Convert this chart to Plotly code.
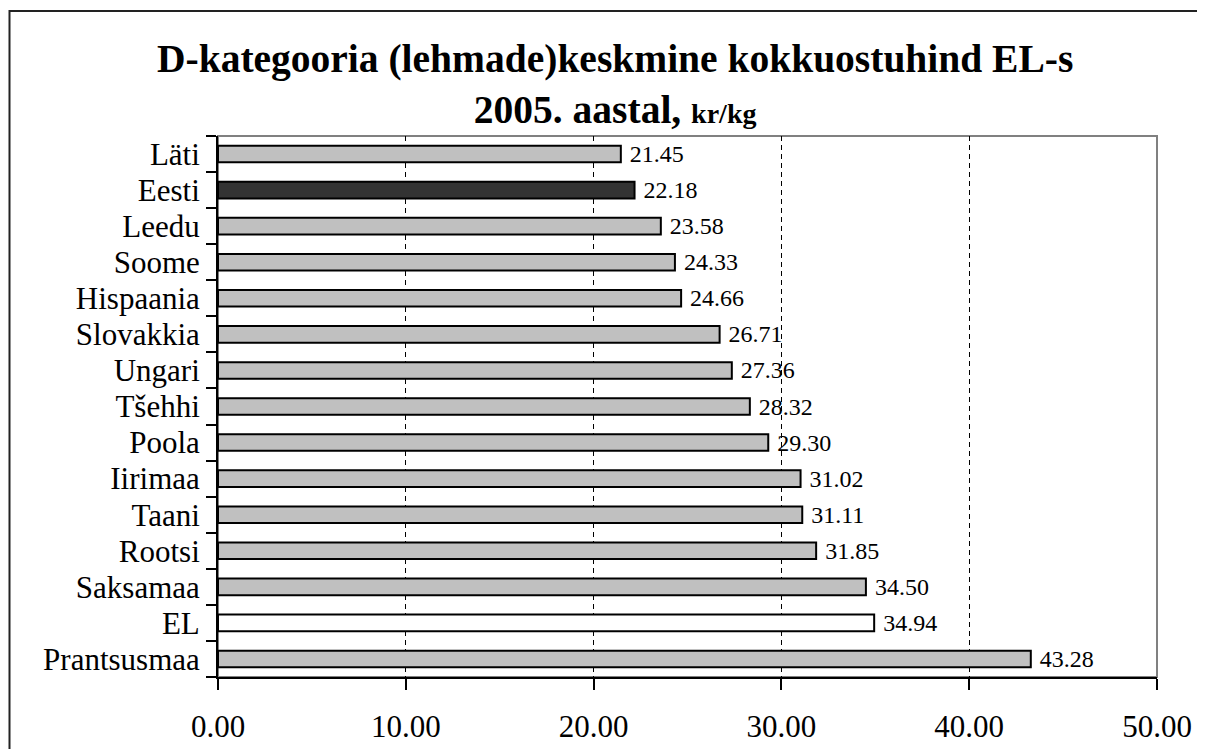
import plotly.graph_objects as go

# Data (top to bottom)
countries = ['Läti', 'Eesti', 'Leedu', 'Soome', 'Hispaania', 'Slovakkia', 'Ungari',
             'Tšehhi', 'Poola', 'Iirimaa', 'Taani', 'Rootsi', 'Saksamaa', 'EL', 'Prantsusmaa']
prices = [21.45, 22.18, 23.58, 24.33, 24.66, 26.71, 27.36,
          28.32, 29.30, 31.02, 31.11, 31.85, 34.50, 34.94, 43.28]
x_ticks = [0, 10, 20, 30, 40, 50]

FONT = 'Times New Roman, Liberation Serif, serif'

# Eesti highlighted dark, EL average white, everyone else silver
bar_colors = []
for c in countries:
    if c == 'Eesti':
        bar_colors.append('#333333')
    elif c == 'EL':
        bar_colors.append('#FFFFFF')
    else:
        bar_colors.append('#C0C0C0')

fig = go.Figure(go.Bar(
    x=prices,
    y=countries,
    orientation='h',
    width=0.46,
    marker=dict(color=bar_colors, line=dict(color='black', width=2)),
    texttemplate=' %{x:.2f}',
    textposition='outside',
    constraintext='none',
    textfont=dict(family=FONT, size=24, color='black'),
    cliponaxis=False,
))

# the page puts the plot 8px in from the corner, so positions below are shifted by 8px
# gray frame for top/right of the plot area; axis lines cover left/bottom
fig.add_shape(type='rect', xref='paper', yref='paper', x0=0, y0=0, x1=1, y1=1,
              line=dict(color='#808080', width=2), layer='below')
# outer chart border (runs off the right and bottom edges)
fig.add_shape(type='rect', xref='paper', yref='paper',
              x0=(1.5 - 210) / 939, y0=-0.25, x1=1.2, y1=(669 - 3) / 541,
              line=dict(color='#222222', width=2), layer='below')

fig.add_annotation(
    text='D-kategooria (lehmade)keskmine kokkuostuhind EL-s<br>'
         "2005. aastal, <span style='font-size:28px'>kr/kg</span>",
    xref='paper', yref='paper', x=(607 - 210) / 939, y=(669 - 77) / 541,
    xanchor='center', yanchor='middle', showarrow=False,
    font=dict(family=FONT, size=39.5, color='black', weight='bold'),
)

fig.update_xaxes(
    range=[0, 50], tickvals=x_ticks, tickformat='.2f',
    showline=True, linecolor='black', linewidth=2,
    ticks='outside', ticklen=11, tickwidth=2, tickcolor='black',
    tickfont=dict(family=FONT, size=31, color='black'), ticklabelstandoff=10,
    showgrid=True, gridcolor='black', gridwidth=1, griddash='5px,4px',
    zeroline=False, automargin=False,
)
fig.update_yaxes(
    autorange='reversed', tickson='boundaries',
    tickmode='array', tickvals=countries, ticktext=countries,
    showline=True, linecolor='black', linewidth=2,
    ticks='outside', ticklen=10, tickwidth=2, tickcolor='black',
    tickfont=dict(family=FONT, size=31, color='black'), ticklabelstandoff=10,
    showgrid=False, automargin=False,
)

fig.update_layout(
    width=1205, height=749,
    margin=dict(l=210, r=56, t=128, b=80),
    paper_bgcolor='white', plot_bgcolor='white',
    showlegend=False, bargap=0.5,
)

fig.write_html('out.html')
